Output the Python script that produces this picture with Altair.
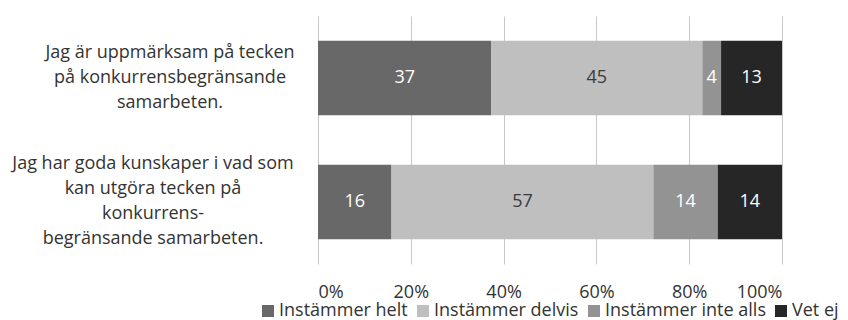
import altair as alt
import pandas as pd

FONT = "Open Sans"

questions = [
    "Jag är uppmärksam på tecken på konkurrensbegränsande samarbeten.",
    "Jag har goda kunskaper i vad som kan utgöra tecken på konkurrens-begränsande samarbeten.",
]
question_lines = [
    ["Jag är uppmärksam på tecken", "på konkurrensbegränsande", "samarbeten."],
    ["Jag har goda kunskaper i vad som", "kan utgöra tecken på", "konkurrens-", "begränsande samarbeten."],
]
categories = ["Instämmer helt", "Instämmer delvis", "Instämmer inte alls", "Vet ej"]
colors = ["#686868", "#bfbfbf", "#939393", "#262626"]
values_q1 = [37, 45, 4, 13]
values_q2 = [16, 57, 14, 14]
tick_values = [0, 0.2, 0.4, 0.6, 0.8, 1.0]

rows = []
for q, vals in zip(questions, [values_q1, values_q2]):
    for i, (c, v) in enumerate(zip(categories, vals)):
        rows.append({"question": q, "category": c, "value": v, "order": i})
df = pd.DataFrame(rows)

label_df = pd.DataFrame({"question": questions, "lines": question_lines})

yenc = alt.Y("question:N", sort=questions,
             scale=alt.Scale(paddingInner=0.4, paddingOuter=0.2), axis=None)

base = alt.Chart(df).transform_stack(
    stack="value", groupby=["question"], as_=["x0", "x1"], offset="normalize",
    sort=[alt.SortField("order", order="ascending")]
).transform_calculate(mid="(datum.x0 + datum.x1) / 2")

bars = base.mark_bar().encode(
    x=alt.X("x0:Q", scale=alt.Scale(domain=[0, 1]),
            axis=alt.Axis(format=".0%", values=tick_values, grid=True, ticks=False,
                          domain=False, title=None, labelFontSize=18, labelFont=FONT,
                          labelColor="#333333", labelPadding=19,
                          gridColor="#c8c8c8", gridWidth=1)),
    x2="x1:Q",
    y=yenc,
    color=alt.Color("category:N", scale=alt.Scale(domain=categories, range=colors),
                    legend=alt.Legend(orient="none", legendX=-59, legendY=286,
                                      direction="horizontal", title=None,
                                      symbolType="square", symbolSize=144,
                                      symbolStrokeWidth=0, labelFontSize=18,
                                      labelFont=FONT, labelColor="#333333",
                                      labelLimit=400,
                                      columnPadding=6, labelOffset=2)),
)

bar_text = base.mark_text(fontSize=18, font=FONT, baseline="middle", align="center").encode(
    x="mid:Q",
    y=yenc,
    text=alt.Text("value:Q"),
    color=alt.condition(alt.datum.category == "Instämmer delvis",
                        alt.value("#3a3a3a"), alt.value("white")),
)

def label_layer(idx, xc, dy):
    return alt.Chart(label_df).transform_filter(
        alt.datum.question == questions[idx]
    ).mark_text(align="center", baseline="middle", lineHeight=25, fontSize=18,
                font=FONT, color="#333333", dy=dy).encode(
        y=yenc, x=alt.value(xc), text="lines:N")

chart = alt.layer(bars, bar_text,
                  label_layer(0, -148, -25),
                  label_layer(1, -165, -38)).properties(
    width=464, height=248,
    autosize=alt.AutoSizeParams(type="none"),
    padding={"left": 318, "top": 16, "right": 66, "bottom": 56},
).configure_view(stroke=None)

chart.save("out.html", embed_options={"renderer": "svg", "actions": False})
